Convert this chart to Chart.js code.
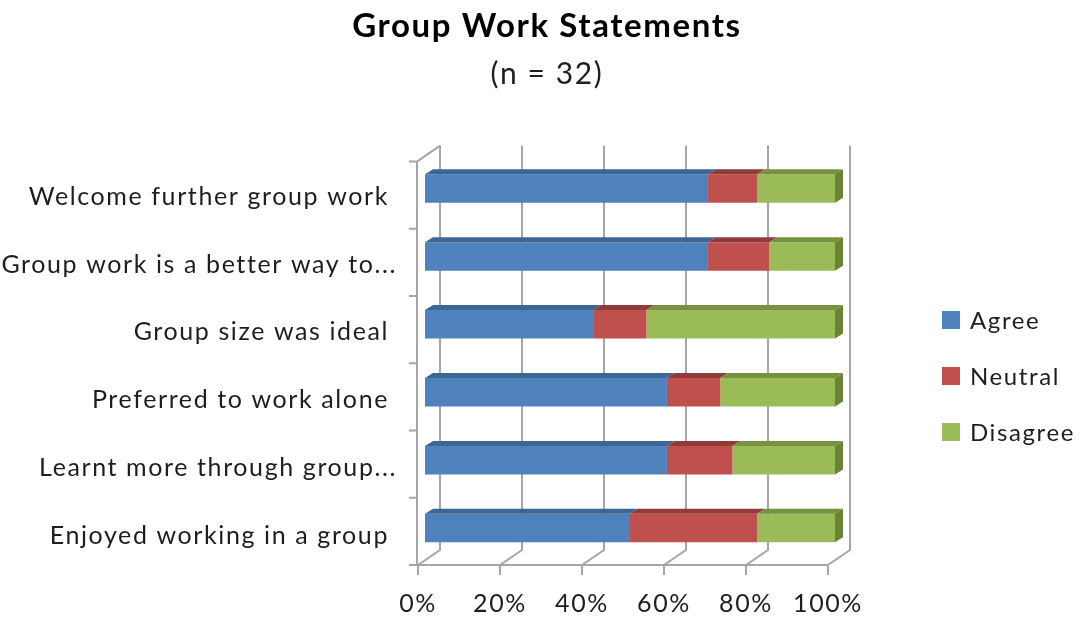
<!DOCTYPE html>
<html>
<head>
<meta charset="utf-8">
<script src="https://cdn.jsdelivr.net/npm/chart.js@4/dist/chart.umd.min.js"></script>
<style>
  html, body { margin: 0; padding: 0; background: #fff; }
  #wrap { width: 1080px; height: 618px; }
</style>
</head>
<body>
<div id="wrap"><canvas id="groupChart"></canvas></div>
<script>
// statements, top to bottom (trailing space like the excel labels)
const statements = [
  'Welcome further group work ',
  'Group work is a better way to...',
  'Group size was ideal ',
  'Preferred to work alone ',
  'Learnt more through group...',
  'Enjoyed working in a group '
];
// percent of the 32 answers
const agreeData    = [69, 69, 41, 59, 59, 50];
const neutralData  = [12, 15, 13, 13, 16, 31];
const disagreeData = [19, 16, 46, 28, 25, 19];
const percentTicks = [0, 20, 40, 60, 80, 100];

const FONT = 'Lato';
const TEXT = '#1e1e1e';
const GRID = '#a6a6a6';

// excel-ish 3d look: bar depth and wall depth in px
const BAR_DX = 8, BAR_DY = -5;
const WALL_DX = 22, WALL_DY = -15;

function spacing(chart) {
  chart.ctx.letterSpacing = '1.6px';
}

const letterSpacingPlugin = {
  id: 'letterSpacing',
  beforeUpdate: spacing,
  beforeLayout: spacing,
  beforeDraw: spacing
};

// back wall gridlines, floor and left axis
const wallsPlugin = {
  id: 'walls',
  beforeDatasetsDraw(chart) {
    const ctx = chart.ctx;
    const x = chart.scales.x;
    const area = chart.chartArea;
    const floorY = area.bottom + 3;
    const topY = area.top + 7;
    const backTop = area.top - 9;
    ctx.save();
    ctx.strokeStyle = GRID;
    ctx.lineWidth = 2;
    ctx.beginPath();
    percentTicks.forEach(v => {
      const xf = x.getPixelForValue(v) - 7;
      ctx.moveTo(xf + WALL_DX, backTop);
      ctx.lineTo(xf + WALL_DX, floorY + WALL_DY);
      ctx.lineTo(xf, floorY);
      ctx.lineTo(xf, floorY + 10);
    });
    const x0 = x.getPixelForValue(0) - 7;
    const x1 = x.getPixelForValue(100) - 7;
    // floor front edge
    ctx.moveTo(x0, floorY);
    ctx.lineTo(x1, floorY);
    // left axis and its ticks
    const ax = x0 - 1;
    ctx.moveTo(ax, topY);
    ctx.lineTo(ax, floorY);
    const n = statements.length;
    for (let i = 0; i <= n; i++) {
      const y = topY + (floorY - topY) * i / n;
      ctx.moveTo(ax - 8, y);
      ctx.lineTo(ax, y);
    }
    ctx.moveTo(ax, topY);
    ctx.lineTo(ax + WALL_DX + 1, topY + WALL_DY - 1);
    ctx.stroke();
    ctx.restore();
  }
};

// top and side faces of the bars
const barDepthPlugin = {
  id: 'barDepth',
  afterDatasetsDraw(chart) {
    const ctx = chart.ctx;
    const sets = chart.data.datasets;
    ctx.save();
    sets.forEach((ds, di) => {
      const meta = chart.getDatasetMeta(di);
      meta.data.forEach(bar => {
        const left = Math.min(bar.base, bar.x);
        const right = Math.max(bar.base, bar.x);
        const top = bar.y - bar.height / 2;
        const bottom = bar.y + bar.height / 2;
        ctx.fillStyle = ds.topColor;
        ctx.beginPath();
        ctx.moveTo(left, top);
        ctx.lineTo(left + BAR_DX, top + BAR_DY);
        ctx.lineTo(right + BAR_DX, top + BAR_DY);
        ctx.lineTo(right, top);
        ctx.closePath();
        ctx.fill();
        if (di === sets.length - 1) {
          ctx.fillStyle = ds.sideColor;
          ctx.beginPath();
          ctx.moveTo(right, top);
          ctx.lineTo(right + BAR_DX, top + BAR_DY);
          ctx.lineTo(right + BAR_DX, bottom + BAR_DY);
          ctx.lineTo(right, bottom);
          ctx.closePath();
          ctx.fill();
        }
      });
    });
    ctx.restore();
  }
};

// legend on the right, built from the datasets
const sideLegendPlugin = {
  id: 'sideLegend',
  afterDraw(chart) {
    const ctx = chart.ctx;
    const area = chart.chartArea;
    const lx = area.right + 107;
    ctx.save();
    ctx.font = '24px ' + FONT;
    ctx.textBaseline = 'middle';
    chart.data.datasets.forEach((ds, i) => {
      const y = 320 + i * 56;
      ctx.fillStyle = ds.backgroundColor;
      ctx.fillRect(lx, y - 9, 18, 18);
      ctx.fillStyle = TEXT;
      ctx.fillText(ds.label, lx + 28, y + 1);
    });
    ctx.restore();
  }
};

const data = {
  labels: statements,
  datasets: [
    {
      label: 'Agree',
      data: agreeData,
      backgroundColor: '#4f81bd',
      topColor: '#3d6694',
      sideColor: '#355a86'
    },
    {
      label: 'Neutral',
      data: neutralData,
      backgroundColor: '#c0504d',
      topColor: '#8f3b39',
      sideColor: '#7e3331'
    },
    {
      label: 'Disagree',
      data: disagreeData,
      backgroundColor: '#9bbb59',
      topColor: '#76923f',
      sideColor: '#6a8436'
    }
  ]
};

const options = {
  indexAxis: 'y',
  responsive: true,
  maintainAspectRatio: false,
  animation: false,
  barPercentage: 0.42,
  categoryPercentage: 1,
  layout: {
    // negative right padding so the title centres where excel put it
    padding: { left: 0, right: -14, top: 0, bottom: 0 }
  },
  scales: {
    x: {
      stacked: true,
      min: 0,
      max: 100,
      grid: { display: false, drawTicks: false },
      border: { display: false },
      ticks: {
        stepSize: 20,
        padding: 27,
        labelOffset: -7,
        color: TEXT,
        font: { family: FONT, size: 25 },
        callback: v => v + '%'
      },
      afterFit(scale) { scale.height = 56; }
    },
    y: {
      stacked: true,
      grid: { display: false, drawTicks: false },
      border: { display: false },
      ticks: {
        padding: 28,
        labelOffset: 8,
        color: TEXT,
        font: { family: FONT, size: 25 }
      },
      afterFit(scale) { scale.width = 425; }
    },
    // empty axis that keeps room for the legend
    legendRoom: {
      type: 'linear',
      position: 'right',
      grid: { display: false, drawTicks: false },
      border: { display: false },
      ticks: { display: false },
      afterFit(scale) { scale.width = 259; }
    }
  },
  plugins: {
    legend: { display: false },
    tooltip: { enabled: false },
    title: {
      display: true,
      text: 'Group Work Statements',
      color: '#000',
      font: { family: FONT, size: 33, weight: 'bold' },
      padding: { top: 7, bottom: 5 }
    },
    subtitle: {
      display: true,
      text: '(n = 32)',
      color: TEXT,
      font: { family: FONT, size: 30 },
      padding: { top: 5, bottom: 62 }
    }
  }
};

const chart = new Chart(document.getElementById('groupChart'), {
  type: 'bar',
  data,
  options,
  plugins: [letterSpacingPlugin, wallsPlugin, barDepthPlugin, sideLegendPlugin]
});
</script>
</body>
</html>
